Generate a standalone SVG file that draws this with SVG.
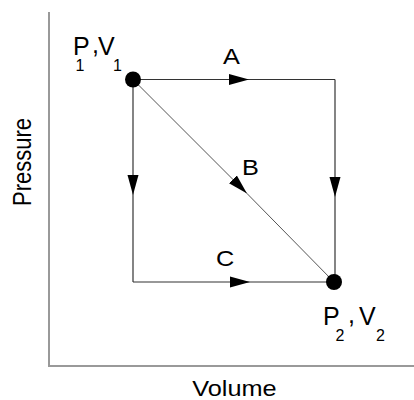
<svg xmlns="http://www.w3.org/2000/svg" width="414" height="400" viewBox="0 0 414 400">
<style>
text{font-family:"Liberation Sans",Arial,sans-serif;fill:#000}
.lbl{font-size:22px}
.big{font-size:25px}
.sub{font-size:16px}
.edge{fill:none;stroke:#333;stroke-width:1.2}
.diag{fill:none;stroke:#555;stroke-width:1}
.axis{fill:none;stroke:#999;stroke-width:2}
.pt{fill:#000}
</style>
<defs>
<marker id="arr" markerWidth="22" markerHeight="12" refX="20" refY="6" orient="auto" markerUnits="userSpaceOnUse">
<path d="M0,0.5 L20,6 L0,11.5 Z" fill="#000"/>
</marker>
</defs>
<g id="axes">
<path class="axis" d="M49,12 L49,366 L414,366"/>
<text class="lbl" text-anchor="middle" transform="translate(31,162) scale(1.2,1) rotate(-90)" font-size="21">Pressure</text>
<text class="lbl" text-anchor="middle" transform="translate(234.5,395.5) scale(1.15,1)">Volume</text>
</g>
<g id="connectors">
<path id="edge-a1" class="edge" d="M133,79.5 L249,79.5 L335,79.5" marker-mid="url(#arr)"/>
<path id="edge-a2" class="edge" d="M335,79.5 L335,197 L335,282" marker-mid="url(#arr)"/>
<path id="edge-b" class="diag" d="M133,79.5 L247,193.5 L334,282" marker-mid="url(#arr)"/>
<path id="edge-c1" class="edge" d="M133,79.5 L133,195 L133,282" marker-mid="url(#arr)"/>
<path id="edge-c2" class="edge" d="M133,282 L250,282 L334,282" marker-mid="url(#arr)"/>
</g>
<g id="label-a"><text class="lbl" transform="translate(223,64) scale(1.15,1)">A</text></g>
<g id="label-b"><text class="lbl" transform="translate(242,175) scale(1.15,1)">B</text></g>
<g id="label-c"><text class="lbl" transform="translate(216,266) scale(1.15,1)">C</text></g>
<g id="state1">
<circle class="pt" cx="133" cy="79.5" r="8"/>
<text class="big" x="73" y="55">P</text>
<text class="sub" x="75.5" y="71">1</text>
<text class="big" x="92" y="53">,</text>
<text class="big" x="98" y="55">V</text>
<text class="sub" x="113" y="71">1</text>
</g>
<g id="state2">
<circle class="pt" cx="334" cy="282" r="8"/>
<text class="big" x="323" y="325">P</text>
<text class="sub" x="335.5" y="341">2</text>
<text class="big" x="348" y="323">,</text>
<text class="big" x="359" y="325">V</text>
<text class="sub" x="376" y="341">2</text>
</g>
</svg>
